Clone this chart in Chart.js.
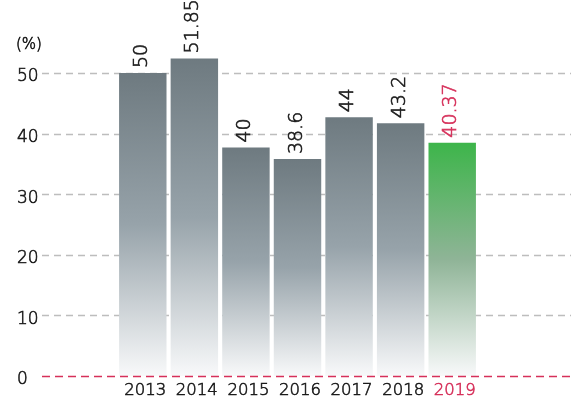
<!DOCTYPE html>
<html>
<head>
  <meta charset="UTF-8" />
  <title>Chart</title>
  <script src="https://cdn.jsdelivr.net/npm/chart.js"></script>
  <style>
    body {
      margin: 0;
      padding: 0;
      background: white;
    }
    #chart {
      display: block;
    }
  </style>
</head>
<body>
  <canvas id="chart" width="571" height="403"></canvas>

  <script>
    const years = ['2013', '2014', '2015', '2016', '2017', '2018', '2019'];
    const barValues = [50, 52.4, 37.7, 35.8, 42.7, 41.7, 38.5];
    const barLabels = ['50', '51.85', '40', '38.6', '44', '43.2', '40.37'];
    const yTicks = [0, 10, 20, 30, 40, 50];
    const highlightIndex = 6;
    const unitLabel = '(%)';

    const FONT = '"DejaVu Sans", sans-serif';
    const TEXT = '#1a1a1a';
    const RED = '#d6305a';

    function barFill(ctx) {
      const chart = ctx.chart;
      const green = ctx.dataIndex === highlightIndex;
      if (!chart.chartArea || ctx.raw === undefined) return green ? '#3db54a' : '#6e7a80';
      const y = chart.scales.y;
      const top = y.getPixelForValue(ctx.raw);
      const base = y.getPixelForValue(0);
      const g = chart.ctx.createLinearGradient(0, top, 0, base);
      if (green) {
        g.addColorStop(0, '#3db54a');
        g.addColorStop(0.5, '#8fb497');
        g.addColorStop(1, '#f8f9fa');
      } else {
        g.addColorStop(0, '#6e7a80');
        g.addColorStop(0.5, '#97a3aa');
        g.addColorStop(1, '#f8f9fa');
      }
      return g;
    }

    // light text, thickened a little with a thin stroke
    function text(c, s, x, y, color) {
      c.fillStyle = color;
      c.strokeStyle = color;
      c.lineWidth = 0.6;
      c.fillText(s, x, y);
      c.strokeText(s, x, y);
    }

    const decor = {
      id: 'decor',
      beforeDatasetsDraw(chart) {
        const c = chart.ctx;
        const y = chart.scales.y;
        c.save();
        c.strokeStyle = '#bdbdbd';
        c.lineWidth = 1.3;
        c.setLineDash([7, 5]);
        yTicks.forEach(v => {
          if (v === 0) return;
          const py = Math.round(y.getPixelForValue(v)) + 0.5;
          c.beginPath();
          c.moveTo(42, py);
          c.lineTo(chart.width, py);
          c.stroke();
        });
        c.restore();
      },
      afterDatasetsDraw(chart) {
        const c = chart.ctx;
        const x = chart.scales.x;
        const y = chart.scales.y;
        c.save();

        // zero line
        c.strokeStyle = RED;
        c.lineWidth = 1.4;
        c.setLineDash([8, 5]);
        const py0 = Math.round(y.getPixelForValue(0)) + 0.5;
        c.beginPath();
        c.moveTo(42, py0);
        c.lineTo(chart.width, py0);
        c.stroke();
        c.setLineDash([]);

        // y tick labels
        c.font = '300 17px ' + FONT;
        c.textAlign = 'left';
        c.textBaseline = 'middle';
        yTicks.forEach(v => {
          text(c, String(v), 17, y.getPixelForValue(v) + 4, TEXT);
        });
        c.font = '300 15px ' + FONT;
        text(c, unitLabel, 16, y.getPixelForValue(50) - 28, TEXT);

        // x labels
        c.font = '300 16.5px ' + FONT;
        c.textAlign = 'center';
        c.textBaseline = 'alphabetic';
        years.forEach((yr, i) => {
          text(c, yr, x.getPixelForValue(i) + 2.5, y.bottom + 19, i === highlightIndex ? RED : TEXT);
        });

        // value labels
        c.font = '300 19px ' + FONT;
        c.textAlign = 'left';
        c.textBaseline = 'alphabetic';
        barLabels.forEach((lbl, i) => {
          const bx = x.getPixelForValue(i) + 4;
          const by = y.getPixelForValue(barValues[i]) - 5;
          c.save();
          c.translate(bx, by);
          c.rotate(-Math.PI / 2);
          text(c, lbl, 0, 0, i === highlightIndex ? RED : TEXT);
          c.restore();
        });

        c.restore();
      }
    };

    new Chart(document.getElementById('chart'), {
      type: 'bar',
      data: {
        labels: years,
        datasets: [{
          data: barValues,
          backgroundColor: barFill,
          borderWidth: 0,
          categoryPercentage: 1,
          barPercentage: 0.92,
          clip: false
        }]
      },
      options: {
        responsive: false,
        animation: false,
        layout: {
          padding: { left: 117, right: 93, top: 73, bottom: 27 }
        },
        plugins: {
          legend: { display: false },
          tooltip: { enabled: false }
        },
        scales: {
          x: { display: false },
          y: { display: false, min: 0, max: 50 }
        }
      },
      plugins: [decor]
    });
  </script>
</body>
</html>
